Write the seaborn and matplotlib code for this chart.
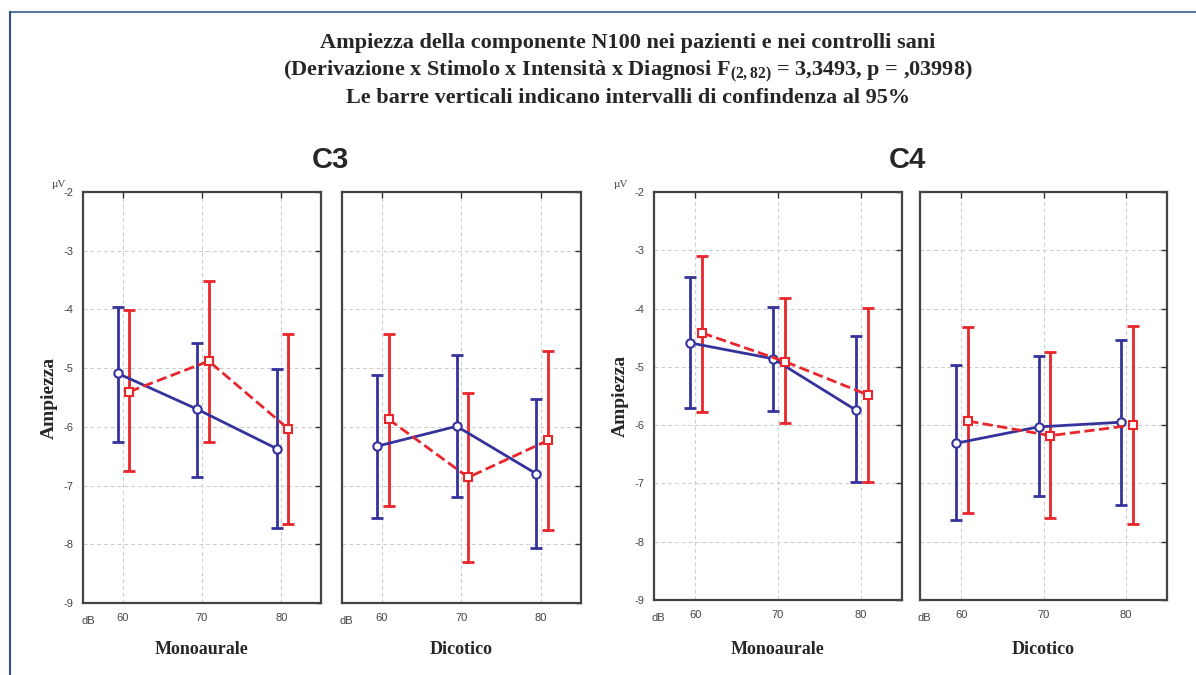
import numpy as np
import pandas as pd
import seaborn as sns
import matplotlib.pyplot as plt
from matplotlib.lines import Line2D

# Intensità dello stimolo (dB)
intensita = [60, 70, 80]

# Pazienti (blu) - medie e limiti IC 95%
paz_media = {
    ('C3', 'Monoaurale'): [-5.09, -5.70, -6.37],
    ('C3', 'Dicotico'): [-6.33, -5.99, -6.80],
    ('C4', 'Monoaurale'): [-4.59, -4.86, -5.74],
    ('C4', 'Dicotico'): [-6.31, -6.03, -5.95],
}
paz_sup = {
    ('C3', 'Monoaurale'): [-3.96, -4.58, -5.02],
    ('C3', 'Dicotico'): [-5.12, -4.77, -5.52],
    ('C4', 'Monoaurale'): [-3.46, -3.97, -4.47],
    ('C4', 'Dicotico'): [-4.97, -4.82, -4.54],
}
paz_inf = {
    ('C3', 'Monoaurale'): [-6.25, -6.86, -7.72],
    ('C3', 'Dicotico'): [-7.55, -7.19, -8.06],
    ('C4', 'Monoaurale'): [-5.70, -5.76, -6.97],
    ('C4', 'Dicotico'): [-7.63, -7.21, -7.37],
}

# Controlli sani (rosso) - medie e limiti IC 95%
ctr_media = {
    ('C3', 'Monoaurale'): [-5.40, -4.88, -6.03],
    ('C3', 'Dicotico'): [-5.87, -6.86, -6.23],
    ('C4', 'Monoaurale'): [-4.42, -4.91, -5.48],
    ('C4', 'Dicotico'): [-5.93, -6.18, -6.00],
}
ctr_sup = {
    ('C3', 'Monoaurale'): [-4.01, -3.52, -4.41],
    ('C3', 'Dicotico'): [-4.42, -5.43, -4.71],
    ('C4', 'Monoaurale'): [-3.10, -3.82, -3.99],
    ('C4', 'Dicotico'): [-4.32, -4.74, -4.30],
}
ctr_inf = {
    ('C3', 'Monoaurale'): [-6.76, -6.25, -7.65],
    ('C3', 'Dicotico'): [-7.34, -8.31, -7.75],
    ('C4', 'Monoaurale'): [-5.77, -5.97, -6.97],
    ('C4', 'Dicotico'): [-7.51, -7.60, -7.70],
}

BLU = '#35339b'
ROSSO = '#e8262b'

sns.set_style('white')
plt.rcParams['font.family'] = ['Liberation Sans', 'DejaVu Sans']
plt.rcParams['axes.unicode_minus'] = False
plt.rcParams['mathtext.fontset'] = 'custom'
plt.rcParams['mathtext.rm'] = 'Liberation Serif:bold'
plt.rcParams['mathtext.it'] = 'Liberation Serif:bold'
plt.rcParams['mathtext.bf'] = 'Liberation Serif:bold'

W, H = 1196, 675
fig = plt.figure(figsize=(W / 100, H / 100), dpi=100)

def px_rect(l, r, t, b):
    return [l / W, 1 - b / H, (r - l) / W, (b - t) / H]

pannelli = [
    ('C3', 'Monoaurale', px_rect(83, 321, 192, 603), True),
    ('C3', 'Dicotico', px_rect(342, 581, 192, 603), False),
    ('C4', 'Monoaurale', px_rect(654, 902, 192, 600), True),
    ('C4', 'Dicotico', px_rect(920, 1167, 192, 600), False),
]

serif = ['Liberation Serif', 'DejaVu Serif']

for deriv, stimolo, rect, primo in pannelli:
    ax = fig.add_axes(rect)
    chiave = (deriv, stimolo)
    x = np.array(intensita, dtype=float)

    serie = [
        (x - 0.6, paz_media[chiave], paz_sup[chiave], paz_inf[chiave], BLU, 'o', '-'),
        (x + 0.85, ctr_media[chiave], ctr_sup[chiave], ctr_inf[chiave], ROSSO, 's', '--'),
    ]
    for xs, m, sup, inf, col, mk, ls in serie:
        m = np.array(m)
        err = [m - np.array(inf), np.array(sup) - m]
        ax.errorbar(xs, m, yerr=err, fmt='none', ecolor=col, elinewidth=2,
                    capsize=4, capthick=2, zorder=2)
    for xs, m, sup, inf, col, mk, ls in serie:
        df = pd.DataFrame({'dB': xs, 'Ampiezza': m})
        sns.lineplot(data=df, x='dB', y='Ampiezza', ax=ax, color=col,
                     linestyle=ls, linewidth=2, marker=mk, markersize=6,
                     markerfacecolor='white', markeredgecolor=col,
                     markeredgewidth=1.5, zorder=3)

    ax.set_xlim(55, 85)
    ax.set_ylim(-9, -2)
    ax.set_xticks(intensita)
    ax.set_yticks(range(-9, -1))
    ax.grid(True, linestyle=(0, (4, 3)), color='#cccccc', linewidth=0.7)
    ax.tick_params(direction='in', length=4, width=1, colors='#333333',
                   top=True, right=True, labelsize=8, labelcolor='#444444',
                   pad=7)
    for sp in ax.spines.values():
        sp.set_color('#444444')
        sp.set_linewidth(1.6)
    ax.set_xlabel('')
    ax.set_ylabel('')
    if primo:
        ax.set_ylabel('Ampiezza', fontsize=14, fontweight='bold',
                      family=serif, labelpad=4)
    else:
        ax.set_yticklabels([])

    # etichette 'dB' e nome dello stimolo
    l, b, w, h = rect
    fig.text(l - 2 / W, b - 18 / H, 'dB', fontsize=8, color='#444444',
             ha='left', va='center')
    fig.text(l + w / 2, 25 / H, stimolo, fontsize=13, fontweight='bold',
             family=serif, ha='center', va='center')

# microvolt
fig.text(52 / W, 1 - 187 / H, 'µV', fontsize=8, color='#444444', family=serif)
fig.text(614 / W, 1 - 187 / H, 'µV', fontsize=8, color='#444444', family=serif)

# titoli C3 / C4
fig.text(330 / W, 1 - 160 / H, 'C3', fontsize=21, fontweight='bold',
         ha='center', va='center')
fig.text(907 / W, 1 - 160 / H, 'C4', fontsize=21, fontweight='bold',
         ha='center', va='center')

# titolo generale
titolo = [
    'Ampiezza della componente N100 nei pazienti e nei controlli sani',
    r'(Derivazione x Stimolo x Intensità x Diagnosi F$_{\mathregular{(2,82)}}$ = 3,3493, p = ,03998)',
    'Le barre verticali indicano intervalli di confindenza al 95%',
]
for i, riga in enumerate(titolo):
    fig.text(628 / W, 1 - (48 + 27.5 * i) / H, riga, fontsize=16,
             fontweight='bold', family=serif, ha='center', va='baseline')

# cornice
fig.add_artist(Line2D([10 / W, 1], [1 - 12 / H, 1 - 12 / H], color='#5b7aa3',
                      linewidth=1.5, transform=fig.transFigure))
fig.add_artist(Line2D([10 / W, 10 / W], [0, 1 - 12 / H], color='#2c4f86',
                      linewidth=1.5, transform=fig.transFigure))

fig.savefig('out.png', dpi=100)
